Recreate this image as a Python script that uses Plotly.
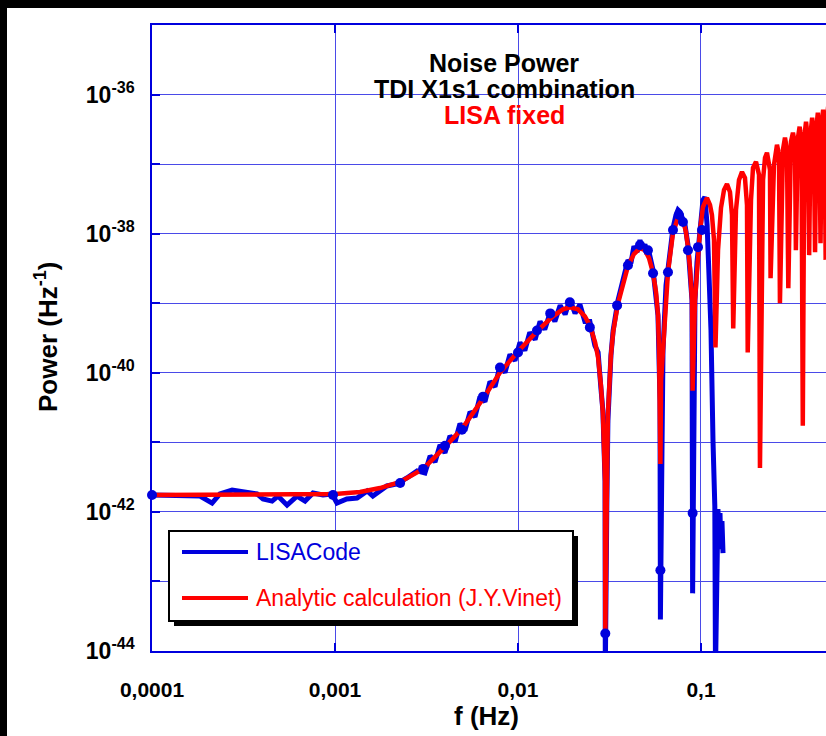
import plotly.graph_objects as go

# ---------------- data ----------------
# Analytic calculation (J.Y. Vinet) -- red curve
red_f = [
    1.00e-4, 1.83e-4, 3.43e-4, 6.44e-4, 1.00e-3, 1.37e-3, 1.76e-3, 2.27e-3, 3.03e-3, 3.99e-3,
    4.94e-3, 6.44e-3, 7.97e-3, 1.00e-2, 1.27e-2, 1.55e-2, 1.76e-2, 1.92e-2, 2.13e-2, 2.32e-2,
    2.47e-2, 2.64e-2, 2.74e-2, 2.84e-2, 2.91e-2, 2.99e-2, 3.00e-2, 3.06e-2, 3.10e-2, 3.22e-2,
    3.31e-2, 3.52e-2, 3.75e-2, 3.99e-2, 4.30e-2, 4.64e-2, 4.94e-2, 5.20e-2, 5.47e-2, 5.68e-2,
    5.82e-2, 5.90e-2, 6.00e-2, 6.05e-2, 6.20e-2, 6.44e-2, 6.60e-2, 7.03e-2, 7.48e-2, 7.97e-2,
    8.28e-2, 8.49e-2, 8.71e-2, 8.93e-2, 9.00e-2, 9.27e-2, 9.51e-2, 9.88e-2, 1.025e-1, 1.078e-1,
    1.120e-1, 1.148e-1, 1.178e-1, 1.200e-1,
    1.239e-1, 1.286e-1, 1.336e-1, 1.387e-1, 1.440e-1, 1.477e-1, 1.500e-1,
    1.553e-1, 1.613e-1, 1.675e-1, 1.739e-1, 1.784e-1, 1.800e-1,
    1.876e-1, 1.924e-1, 1.998e-1, 2.075e-1, 2.100e-1,
    2.183e-1, 2.238e-1, 2.294e-1, 2.382e-1, 2.400e-1,
    2.505e-1, 2.602e-1, 2.668e-1, 2.700e-1,
    2.805e-1, 2.877e-1, 2.950e-1, 3.000e-1,
    3.102e-1, 3.181e-1, 3.263e-1, 3.300e-1,
    3.380e-1, 3.460e-1, 3.540e-1, 3.600e-1,
    3.670e-1, 3.750e-1, 3.830e-1, 3.900e-1,
    3.970e-1, 4.050e-1, 4.130e-1, 4.200e-1,
    4.270e-1, 4.350e-1, 4.430e-1, 4.500e-1,
    4.570e-1, 4.650e-1, 4.730e-1, 4.800e-1,
    4.870e-1, 4.950e-1, 5.030e-1, 5.100e-1,
]
red_P = [
    1.75e-42, 1.75e-42, 1.75e-42, 1.75e-42, 1.81e-42, 1.93e-42, 2.20e-42, 2.69e-42, 4.15e-42, 8.61e-42,
    1.57e-41, 4.25e-41, 1.01e-40, 2.02e-40, 3.93e-40, 6.47e-40, 8.17e-40, 8.73e-40, 8.17e-40, 6.47e-40,
    4.80e-40, 2.73e-40, 1.66e-40, 6.53e-41, 2.58e-41, 2.78e-42, 1.78e-44, 2.00e-42, 2.58e-41, 1.77e-40,
    3.80e-40, 9.97e-40, 1.94e-39, 3.40e-39, 5.08e-39, 6.19e-39, 5.80e-39, 4.45e-39, 2.70e-39, 1.44e-39,
    6.69e-40, 2.09e-40, 4.90e-42, 7.71e-41, 2.09e-40, 1.44e-39, 2.79e-39, 1.02e-38, 1.68e-38, 1.57e-38,
    1.05e-38, 6.41e-39, 3.19e-39, 1.10e-39, 5.53e-41, 1.10e-39, 3.40e-39, 1.13e-38, 2.42e-38, 3.26e-38,
    2.59e-38, 1.85e-38, 8.09e-39, 2.31e-40,
    5.79e-39, 2.34e-38, 4.26e-38, 5.19e-38, 3.98e-38, 1.85e-38, 4.34e-40,
    2.19e-38, 5.93e-38, 7.73e-38, 6.34e-38, 2.58e-38, 1.96e-40,
    3.05e-38, 8.83e-38, 1.08e-37, 7.01e-38, 4.29e-42,
    5.93e-38, 1.23e-37, 1.46e-37, 8.27e-38, 2.29e-39,
    9.76e-38, 1.90e-37, 1.36e-37, 1.00e-39,
    1.61e-37, 2.40e-37, 1.61e-37, 1.64e-39,
    2.10e-37, 2.83e-37, 1.90e-37, 5.80e-39,
    2.30e-37, 3.45e-37, 2.20e-37, 1.73e-41,
    2.50e-37, 4.07e-37, 2.40e-37, 4.91e-39,
    2.80e-37, 4.66e-37, 2.70e-37, 5.42e-39,
    3.30e-37, 5.50e-37, 3.20e-37, 7.31e-39,
    3.60e-37, 6.08e-37, 3.50e-37, 4.20e-39,
    4.00e-37, 6.70e-37, 3.90e-37, 5.00e-39,
]

# LISACode -- blue curve
blue_f = [
    1.00e-4, 1.18e-4, 1.42e-4, 1.83e-4, 2.13e-4, 2.35e-4, 2.74e-4, 3.22e-4, 3.75e-4, 4.04e-4,
    4.53e-4, 4.88e-4, 5.47e-4, 6.20e-4, 6.86e-4, 7.58e-4, 8.60e-4, 9.63e-4, 1.025e-3, 1.16e-3,
    1.32e-3, 1.50e-3, 1.61e-3, 1.92e-3, 2.18e-3, 2.47e-3, 2.81e-3,
    3.10e-3, 3.31e-3, 3.52e-3, 3.75e-3, 3.99e-3, 4.25e-3, 4.53e-3, 4.82e-3, 5.13e-3, 5.47e-3,
    5.82e-3, 6.20e-3, 6.60e-3, 7.03e-3, 7.49e-3, 7.97e-3, 8.49e-3, 9.04e-3, 9.63e-3, 1.025e-2,
    1.09e-2, 1.16e-2, 1.24e-2, 1.32e-2, 1.40e-2, 1.50e-2, 1.59e-2, 1.70e-2, 1.81e-2, 1.92e-2,
    2.05e-2, 2.18e-2, 2.32e-2, 2.47e-2, 2.63e-2, 2.74e-2, 2.84e-2, 2.91e-2, 2.99e-2, 3.00e-2,
    3.06e-2, 3.10e-2, 3.22e-2, 3.31e-2, 3.52e-2, 3.75e-2, 3.99e-2, 4.14e-2, 4.30e-2, 4.47e-2,
    4.64e-2, 4.82e-2, 4.94e-2, 5.07e-2, 5.20e-2, 5.47e-2, 5.68e-2, 5.82e-2, 5.97e-2, 6.00e-2,
    6.12e-2, 6.20e-2, 6.44e-2, 6.60e-2, 6.86e-2, 7.03e-2, 7.30e-2, 7.49e-2, 7.68e-2, 7.87e-2,
    8.18e-2, 8.49e-2, 8.71e-2, 8.93e-2, 9.00e-2, 9.27e-2, 9.51e-2, 9.75e-2, 1.00e-1, 1.025e-1,
    1.05e-1, 1.08e-1, 1.106e-1, 1.134e-1, 1.163e-1, 1.19e-1, 1.20e-1, 1.223e-1, 1.238e-1, 1.254e-1,
    1.270e-1, 1.286e-1, 1.302e-1, 1.319e-1,
]
blue_P = [
    1.75e-42, 1.75e-42, 1.69e-42, 1.69e-42, 1.34e-42, 1.81e-42, 2.06e-42, 1.93e-42, 1.81e-42, 1.53e-42,
    1.43e-42, 1.69e-42, 1.25e-42, 1.69e-42, 1.43e-42, 1.87e-42, 1.75e-42, 1.81e-42, 1.34e-42, 1.53e-42,
    1.58e-42, 2.00e-42, 1.69e-42, 2.36e-42, 2.52e-42, 3.07e-42, 3.88e-42,
    3.62e-42, 6.38e-42, 5.22e-42, 9.20e-42, 7.06e-42, 1.24e-41, 1.02e-41, 1.85e-41, 1.47e-41, 2.75e-41,
    2.33e-41, 4.54e-41, 3.84e-41, 7.46e-41, 6.32e-41, 1.27e-40, 1.01e-40, 1.83e-40, 1.50e-40, 2.73e-40,
    2.09e-40, 3.80e-40, 3.01e-40, 5.48e-40, 4.20e-40, 7.38e-40, 5.48e-40, 9.30e-40, 6.91e-40, 1.14e-39,
    7.14e-40, 9.60e-40, 5.48e-40, 5.48e-40, 2.47e-40, 1.96e-40, 5.91e-41, 2.85e-41, 2.78e-42, 5.00e-45,
    1.43e-42, 2.04e-41, 1.77e-40, 4.06e-40, 1.10e-39, 2.36e-39, 4.16e-39, 3.76e-39, 6.61e-39, 5.42e-39,
    8.08e-39, 5.79e-39, 7.07e-39, 5.08e-39, 5.42e-39, 2.98e-39, 1.44e-39, 6.69e-40, 3.97e-41, 2.84e-44,
    7.53e-42, 2.09e-40, 1.81e-39, 3.19e-39, 8.08e-39, 1.20e-38, 1.85e-38, 2.19e-38, 2.05e-38, 1.68e-38,
    1.33e-38, 6.84e-39, 3.19e-39, 1.10e-39, 6.74e-44, 1.10e-39, 3.89e-39, 8.08e-39, 1.57e-38, 3.05e-38,
    3.37e-38, 1.33e-38, 2.53e-39, 4.06e-40, 1.05e-41, 1.21e-42, 5.00e-45, 7.35e-43, 1.10e-42, 3.79e-43,
    9.60e-43, 2.90e-43, 7.35e-43, 2.55e-43,
]

# LISACode sample points drawn as dots
blue_mark_f = [
    1.00e-4, 9.75e-4, 2.27e-3, 3.03e-3, 3.99e-3, 4.94e-3, 6.44e-3, 7.97e-3, 1.00e-2, 1.27e-2,
    1.50e-2, 1.92e-2, 2.47e-2, 3.00e-2, 3.48e-2, 3.99e-2, 4.64e-2, 5.13e-2, 5.47e-2, 6.00e-2,
    6.60e-2, 7.03e-2, 7.58e-2, 7.97e-2, 8.49e-2, 9.00e-2, 9.63e-2, 1.013e-1,
]
blue_mark_P = [
    1.75e-42, 1.75e-42, 2.60e-42, 4.15e-42, 8.90e-42, 1.515e-41, 4.54e-41, 1.19e-40, 1.96e-40, 4.06e-40,
    7.14e-40, 1.03e-39, 4.49e-40, 1.78e-44, 9.30e-40, 3.52e-39, 6.84e-39, 5.79e-39, 2.70e-39, 1.45e-43,
    2.79e-39, 1.13e-38, 1.85e-38, 1.47e-38, 5.79e-39, 9.60e-43, 6.40e-39, 1.13e-38,
]

x_tick_vals = [1e-4, 1e-3, 1e-2, 1e-1, 1.0]
x_tick_text = ["0,0001", "0,001", "0,01", "0,1", "1"]
y_label_exponents = [-44, -42, -40, -38, -36]
y_minor_exponents = [-43, -41, -39, -37, -35]

series_names = ["LISACode", "Analytic calculation (J.Y.Vinet)"]
title_lines = ["Noise Power", "TDI X1s1 combination", "LISA fixed"]

# ---------------- styling / layout ----------------
FONT = "Liberation Sans, Arial, Helvetica, sans-serif"
BLUE = "#0000dd"
RED = "#ff0000"
GRID = "#4a4ae8"

W, H = 826, 736
L, R, T, B = 152, 826, 25, 651


def px(x):
    return (x - L) / (R - L)


def py(y):
    return (B - y) / (B - T)


fig = go.Figure()
fig.add_trace(go.Scatter(x=blue_f, y=blue_P, mode="lines",
                         line=dict(color=BLUE, width=5), showlegend=False))
fig.add_trace(go.Scatter(x=red_f, y=red_P, mode="lines",
                         line=dict(color=RED, width=4.5), showlegend=False))
fig.add_trace(go.Scatter(x=blue_mark_f, y=blue_mark_P, mode="markers",
                         marker=dict(color=BLUE, size=10), cliponaxis=False,
                         showlegend=False))

y_vals = [10.0 ** e for e in y_label_exponents]
y_text = ["10<sup>%d</sup>" % e for e in y_label_exponents]
y_minor_vals = [10.0 ** e for e in y_minor_exponents]

fig.update_layout(
    width=W, height=H,
    margin=dict(l=L, r=W - R, t=T, b=H - B, pad=0),
    paper_bgcolor="white", plot_bgcolor="white",
    showlegend=False,
    xaxis=dict(type="log", range=[-4, -0.3169], tickvals=x_tick_vals, ticktext=x_tick_text,
               showgrid=True, gridcolor=GRID, gridwidth=1,
               showline=True, linecolor=BLUE, linewidth=1.5, mirror="ticks",
               ticks="inside", ticklen=8, tickcolor=BLUE, tickwidth=1.5,
               tickfont=dict(family=FONT, size=21, color="black", weight="bold"),
               ticklabelstandoff=19, zeroline=False),
    yaxis=dict(type="log", range=[-44, -35], tickvals=y_vals, ticktext=y_text,
               showgrid=True, gridcolor=GRID, gridwidth=1,
               showline=True, linecolor=BLUE, linewidth=1.5,
               ticks="inside", ticklen=8, tickcolor=BLUE, tickwidth=1.5,
               minor=dict(tickmode="array", tickvals=y_minor_vals, ticks="inside", ticklen=8,
                          tickcolor=BLUE, tickwidth=1.5, showgrid=True, gridcolor=GRID, gridwidth=1),
               tickfont=dict(family=FONT, size=23, color="black", weight="bold"),
               ticklabelstandoff=11, zeroline=False),
)

annotations = []
title_y = [63, 89, 115]
title_col = ["black", "black", RED]
for txt, yy, col in zip(title_lines, title_y, title_col):
    annotations.append(dict(x=px(504), y=py(yy), xref="paper", yref="paper", text=txt,
                            showarrow=False, xanchor="center", yanchor="middle", borderpad=0,
                            font=dict(family=FONT, size=25, color=col, weight="bold")))
annotations.append(dict(x=px(486), y=py(716), xref="paper", yref="paper", text="f (Hz)",
                        showarrow=False, xanchor="center", yanchor="middle",
                        font=dict(family=FONT, size=26, color="black", weight="bold")))
annotations.append(dict(x=px(46), y=py(337), xref="paper", yref="paper",
                        text="Power (Hz<sup>-1</sup>)", textangle=-90,
                        showarrow=False, xanchor="center", yanchor="middle",
                        font=dict(family=FONT, size=26, color="black", weight="bold")))
# legend texts
for name, yy, col in zip(series_names, [552, 598], [BLUE, RED]):
    annotations.append(dict(x=px(254), y=py(yy), xref="paper", yref="paper", text=name,
                            showarrow=False, xanchor="left", yanchor="middle",
                            font=dict(family=FONT, size=23, color=col)))

shapes = []
# black frame strips on top and left of the picture
shapes.append(dict(type="rect", xref="paper", yref="paper", x0=px(0), x1=px(W), y0=py(0), y1=py(8),
                   fillcolor="black", line=dict(width=0), layer="above"))
shapes.append(dict(type="rect", xref="paper", yref="paper", x0=px(0), x1=px(7), y0=py(H), y1=py(0),
                   fillcolor="black", line=dict(width=0), layer="above"))
# legend box with drop shadow
shapes.append(dict(type="rect", xref="paper", yref="paper", x0=px(174), x1=px(578), y0=py(626), y1=py(536),
                   fillcolor="black", line=dict(width=0), layer="above"))
shapes.append(dict(type="rect", xref="paper", yref="paper", x0=px(169), x1=px(573), y0=py(621), y1=py(531),
                   fillcolor="white", line=dict(color="black", width=2), layer="above"))
for yy, col in zip([552, 598], [BLUE, RED]):
    shapes.append(dict(type="line", xref="paper", yref="paper", x0=px(182), x1=px(248), y0=py(yy), y1=py(yy),
                       line=dict(color=col, width=4), layer="above"))

fig.update_layout(annotations=annotations, shapes=shapes)

fig.write_html("out.html")
